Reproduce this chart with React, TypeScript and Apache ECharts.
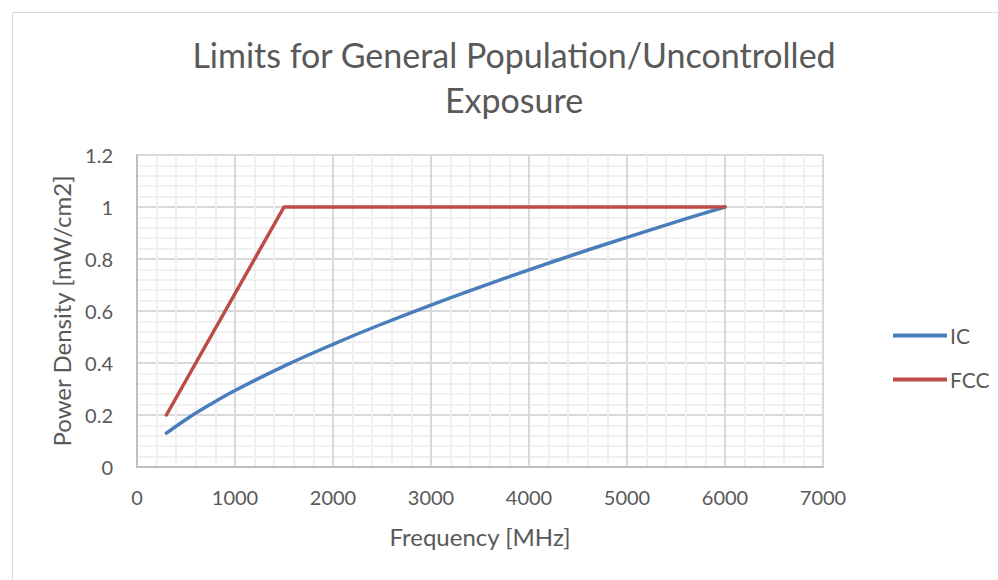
import React, { useEffect, useRef } from "react";
import * as echarts from "echarts";

const titleText = "Limits for General Population/Uncontrolled\nExposure";
const xAxisName = "Frequency [MHz]";
const yAxisName = "Power Density [mW/cm2]";

const icFreq = [300, 500, 750, 1000, 1500, 2000, 2500, 3000, 3500, 4000, 4500, 5000, 5500, 6000];
const icValues = [0.13, 0.183, 0.241, 0.294, 0.388, 0.472, 0.55, 0.623, 0.692, 0.758, 0.822, 0.883, 0.943, 1.0];

const fccFreq = [300, 1500, 6000];
const fccValues = [0.2, 1.0, 1.0];

const seriesNames = ["IC", "FCC"];
const seriesColors = ["#4A7EBB", "#BE4B48"];

const FONT = "Lato, 'Open Sans', sans-serif";

export default function App() {
  const ref = useRef<HTMLDivElement>(null);
  useEffect(() => {
    if (!ref.current) return;
    const chart = echarts.init(ref.current, undefined, { renderer: "svg" });
    const pairs = (xs: number[], ys: number[]) => xs.map((x, i) => [x, ys[i]]);
    chart.setOption({
      animation: false,
      backgroundColor: "#ffffff",
      textStyle: { fontFamily: FONT },
      title: {
        text: titleText,
        left: 509,
        top: 27,
        textAlign: "center",
        textStyle: {
          fontFamily: FONT,
          fontSize: 34,
          fontWeight: "normal",
          color: "#595959",
          lineHeight: 45,
        },
      },
      graphic: [
        {
          type: "rect",
          left: 10,
          top: 10,
          shape: { width: 1000, height: 600 },
          style: { fill: "none", stroke: "#d9d9d9", lineWidth: 1 },
          silent: true,
          z: -1,
        },
      ],
      legend: {
        orient: "vertical",
        left: 888,
        top: 320,
        itemWidth: 54,
        itemHeight: 4,
        itemGap: 23,
        icon: "rect",
        textStyle: { fontFamily: FONT, fontSize: 21, color: "#595959", padding: [0, 0, 0, -2] },
        data: seriesNames,
      },
      grid: { left: 137, right: 998 - 823, top: 155, bottom: 580 - 467 },
      xAxis: {
        type: "value",
        min: 0,
        max: 7000,
        interval: 1000,
        name: xAxisName,
        nameLocation: "middle",
        nameGap: 57,
        nameTextStyle: { fontFamily: FONT, fontSize: 24, color: "#595959" },
        axisLine: { show: true, lineStyle: { color: "#bfbfbf", width: 2 } },
        axisTick: { show: false },
        axisLabel: {
          fontFamily: FONT,
          fontSize: 20,
          color: "#595959",
          margin: 20,
          formatter: (v: number) => String(v),
        },
        splitLine: { show: true, lineStyle: { color: "#d9d9d9", width: 2 } },
        minorTick: { show: false, splitNumber: 5 },
        minorSplitLine: { show: true, lineStyle: { color: "#f0f0f0", width: 2 } },
      },
      yAxis: {
        type: "value",
        min: 0,
        max: 1.2,
        interval: 0.2,
        name: yAxisName,
        nameLocation: "middle",
        nameGap: 64,
        nameTextStyle: { fontFamily: FONT, fontSize: 24, color: "#595959" },
        axisLine: { show: true, lineStyle: { color: "#bfbfbf", width: 2 } },
        axisTick: { show: false },
        axisLabel: { fontFamily: FONT, fontSize: 20, color: "#595959", margin: 24 },
        splitLine: { show: true, lineStyle: { color: "#d9d9d9", width: 2 } },
        minorTick: { show: false, splitNumber: 5 },
        minorSplitLine: { show: true, lineStyle: { color: "#f0f0f0", width: 2 } },
      },
      series: [
        {
          name: seriesNames[0],
          type: "line",
          data: pairs(icFreq, icValues),
          smooth: 0.4,
          showSymbol: false,
          symbol: "none",
          color: seriesColors[0],
          lineStyle: { width: 3.5, color: seriesColors[0], cap: "round" },
        },
        {
          name: seriesNames[1],
          type: "line",
          data: pairs(fccFreq, fccValues),
          showSymbol: false,
          symbol: "none",
          color: seriesColors[1],
          lineStyle: { width: 3.5, color: seriesColors[1], cap: "round", join: "round" },
        },
      ],
    });
    return () => chart.dispose();
  }, []);
  return (
    <div
      ref={ref}
      style={{ position: "fixed", left: 0, top: 0, width: 998, height: 580, background: "#fff" }}
    />
  );
}
